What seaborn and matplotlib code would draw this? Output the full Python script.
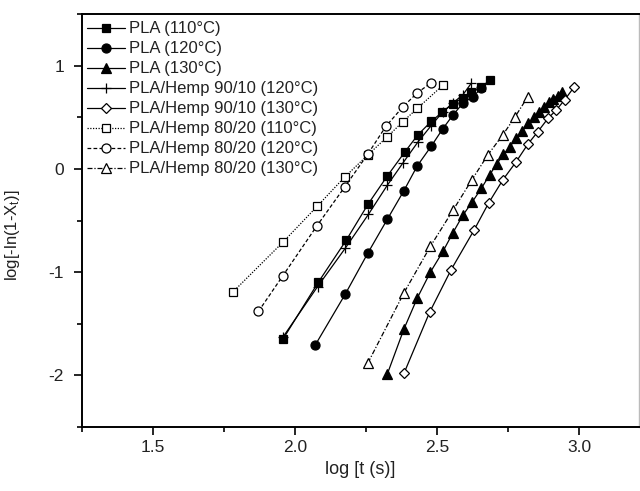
import matplotlib
matplotlib.use("Agg")
import matplotlib.pyplot as plt
import seaborn as sns
import pandas as pd
from matplotlib.ticker import MultipleLocator, FormatStrFormatter

# ---- data (log t, log[-ln(1-Xt)]) ----
pla110_x = [1.957, 2.081, 2.180, 2.257, 2.324, 2.385, 2.432, 2.479, 2.518, 2.555, 2.590, 2.620, 2.655, 2.684]
pla110_y = [-1.65, -1.10, -0.69, -0.34, -0.07, 0.16, 0.33, 0.46, 0.55, 0.63, 0.69, 0.74, 0.79, 0.86]

pla120_x = [2.070, 2.177, 2.257, 2.324, 2.383, 2.430, 2.479, 2.520, 2.555, 2.590, 2.626, 2.655]
pla120_y = [-1.71, -1.21, -0.81, -0.49, -0.21, 0.03, 0.22, 0.39, 0.52, 0.635, 0.70, 0.78]

pla130_x = [2.324, 2.383, 2.430, 2.476, 2.520, 2.555, 2.590, 2.622, 2.655, 2.684, 2.710, 2.733,
            2.756, 2.778, 2.800, 2.821, 2.840, 2.858, 2.876, 2.893, 2.909, 2.924, 2.939]
pla130_y = [-1.99, -1.55, -1.25, -1.00, -0.80, -0.62, -0.45, -0.325, -0.19, -0.06, 0.05, 0.14,
            0.215, 0.30, 0.37, 0.44, 0.50, 0.55, 0.60, 0.645, 0.68, 0.71, 0.74]

h9010_120_x = [1.957, 2.079, 2.176, 2.258, 2.324, 2.380, 2.432, 2.479, 2.519, 2.556, 2.591, 2.620]
h9010_120_y = [-1.63, -1.14, -0.77, -0.44, -0.16, 0.06, 0.26, 0.42, 0.55, 0.64, 0.72, 0.83]

h9010_130_x = [2.383, 2.473, 2.549, 2.629, 2.681, 2.731, 2.778, 2.819, 2.854, 2.890, 2.919, 2.948, 2.981]
h9010_130_y = [-1.98, -1.39, -0.976, -0.596, -0.33, -0.106, 0.07, 0.24, 0.36, 0.49, 0.57, 0.667, 0.79]

h8020_110_x = [1.780, 1.957, 2.077, 2.174, 2.256, 2.324, 2.379, 2.430, 2.520]
h8020_110_y = [-1.195, -0.71, -0.364, -0.08, 0.135, 0.31, 0.457, 0.586, 0.81]

h8020_120_x = [1.871, 1.957, 2.077, 2.174, 2.255, 2.320, 2.379, 2.430, 2.479]
h8020_120_y = [-1.38, -1.034, -0.55, -0.177, 0.14, 0.415, 0.60, 0.737, 0.834]

h8020_130_x = [2.256, 2.383, 2.476, 2.555, 2.622, 2.678, 2.731, 2.773, 2.819]
h8020_130_y = [-1.88, -1.20, -0.75, -0.403, -0.106, 0.135, 0.33, 0.50, 0.70]

labels = ["PLA (110\u00b0C)", "PLA (120\u00b0C)", "PLA (130\u00b0C)",
          "PLA/Hemp 90/10 (120\u00b0C)", "PLA/Hemp 90/10 (130\u00b0C)",
          "PLA/Hemp 80/20 (110\u00b0C)", "PLA/Hemp 80/20 (120\u00b0C)", "PLA/Hemp 80/20 (130\u00b0C)"]
series_x = [pla110_x, pla120_x, pla130_x, h9010_120_x, h9010_130_x, h8020_110_x, h8020_120_x, h8020_130_x]
series_y = [pla110_y, pla120_y, pla130_y, h9010_120_y, h9010_130_y, h8020_110_y, h8020_120_y, h8020_130_y]

frames = []
for lab, xs, ys in zip(labels, series_x, series_y):
    frames.append(pd.DataFrame({"logt": xs, "val": ys, "series": lab}))
df = pd.concat(frames, ignore_index=True)

# ---- styles ----
styles = {
    labels[0]: dict(marker="s", ms=6, mfc="black", ls="-"),
    labels[1]: dict(marker="o", ms=6.5, mfc="black", ls="-"),
    labels[2]: dict(marker="^", ms=7, mfc="black", ls="-"),
    labels[3]: dict(marker="+", ms=7, mfc="black", ls="-"),
    labels[4]: dict(marker="D", ms=5.5, mfc="white", ls="-"),
    labels[5]: dict(marker="s", ms=6, mfc="white", ls=(0, (1, 1.2))),
    labels[6]: dict(marker="o", ms=6.5, mfc="white", ls=(0, (3, 1.8))),
    labels[7]: dict(marker="^", ms=7, mfc="white", ls=(0, (4, 1.5, 1, 1.5))),
}

sns.set_theme(style="white")
plt.rcParams["font.family"] = ["Liberation Sans", "DejaVu Sans"]
plt.rcParams["mathtext.default"] = "regular"
plt.rcParams["axes.unicode_minus"] = False

fig = plt.figure(figsize=(6.4, 4.91), dpi=100)
ax = fig.add_axes([82 / 640, 64 / 491, 557 / 640, 413 / 491])

for lab in labels:
    st = styles[lab]
    sub = df[df["series"] == lab]
    sns.lineplot(data=sub, x="logt", y="val", ax=ax, sort=False, estimator=None,
                 color="black", linewidth=0.9, linestyle=st["ls"], marker=st["marker"],
                 markersize=st["ms"], markerfacecolor=st["mfc"], markeredgecolor="black",
                 markeredgewidth=0.9, label=lab)

ax.set_xlim(1.25, 3.21)
ax.set_ylim(-2.5, 1.5)
ax.xaxis.set_major_locator(MultipleLocator(0.5))
ax.xaxis.set_minor_locator(MultipleLocator(0.25))
ax.yaxis.set_major_locator(MultipleLocator(1))
ax.yaxis.set_minor_locator(MultipleLocator(0.5))
ax.xaxis.set_major_formatter(FormatStrFormatter("%.1f"))
ax.yaxis.set_major_formatter(FormatStrFormatter("%d"))

ax.tick_params(axis="both", which="major", direction="out", length=6, width=1.2,
               labelsize=12.5, colors="black", labelcolor="#222222",
               bottom=True, left=True)
ax.tick_params(axis="x", which="major", pad=3)
ax.tick_params(axis="y", which="major", pad=7)
ax.tick_params(axis="both", which="minor", direction="out", length=3.5, width=1.2,
               bottom=True, left=True, colors="black")

for side in ["left", "bottom", "top"]:
    ax.spines[side].set_color("black")
    ax.spines[side].set_linewidth(1.4)
ax.spines["right"].set_color("#bbbbbb")
ax.spines["right"].set_linewidth(1.0)

ax.set_xlabel("log [t (s)]", fontsize=13, color="#222222", labelpad=5)
ax.set_ylabel("log[-ln(1-X$_t$)]", fontsize=12, color="#222222")
ax.yaxis.set_label_coords(-0.108, 0.465)

leg = ax.legend(loc="upper left", bbox_to_anchor=(-0.003, 0.998), frameon=False,
                fontsize=12, handlelength=2.3, handletextpad=0.25, labelspacing=0.3,
                borderpad=0.2, borderaxespad=0.2)
for t in leg.get_texts():
    t.set_color("#222222")

fig.savefig("out.png", dpi=100)
